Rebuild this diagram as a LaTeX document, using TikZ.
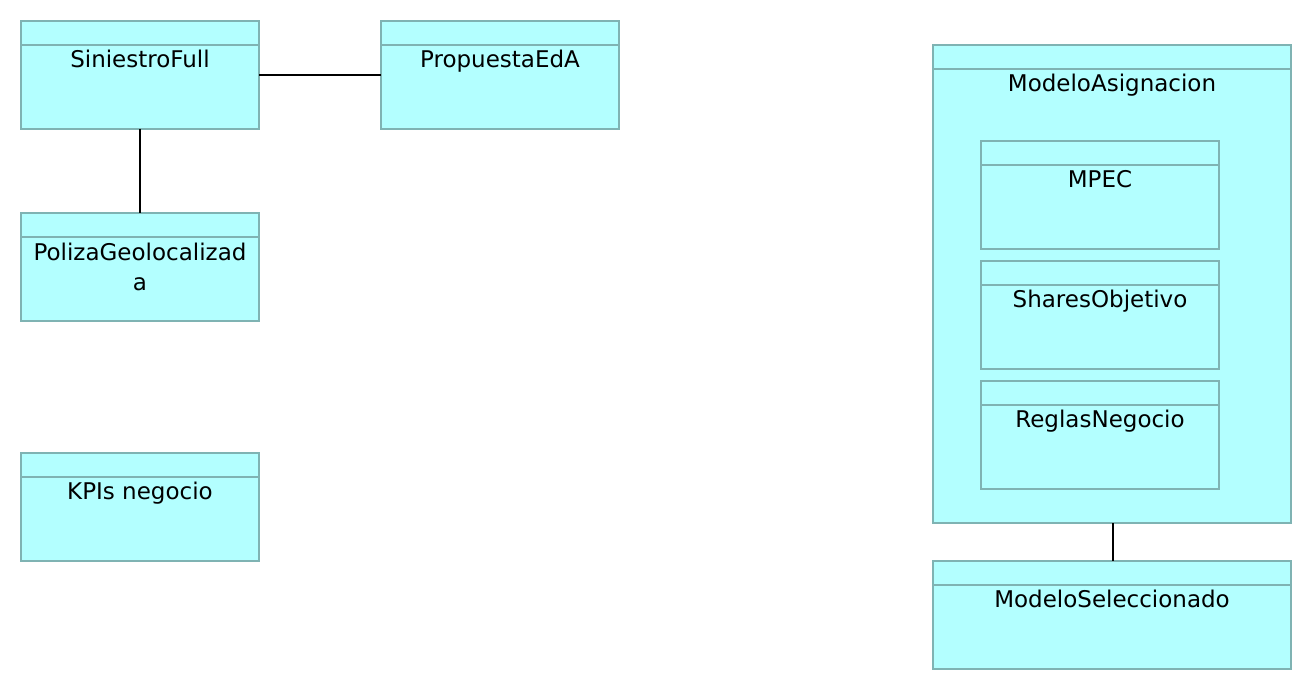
\documentclass[tikz,border=0pt]{standalone}
\usepackage{fontspec}
\setmainfont{DejaVu Sans}
\usetikzlibrary{calc}
\definecolor{boxfill}{HTML}{B3FFFF}
\definecolor{boxdraw}{HTML}{7FB3B3}
\tikzset{
  x=0.5pt, y=-0.5pt,
  umlbox/.style={draw=boxdraw, fill=boxfill, line width=1pt, anchor=north west, inner sep=0pt, outer sep=0pt},
  hdr/.style={draw=boxdraw, line width=1pt},
  title/.style={anchor=base, inner sep=0pt, font=\fontsize{11.5pt}{14pt}\selectfont},
  conn/.style={draw=black, line width=0.8pt}
}
\newcommand{\umlclass}[6]{% name, x, y, w, h, text
  \node[umlbox, minimum width=#4*0.5pt, minimum height=#5*0.5pt] (#1) at (#2,#3) {};
  \draw[hdr] ($(#1.north west)+(0,24)$) -- ($(#1.north east)+(0,24)$);
  \node[title] (#1-t) at ($(#1.north)+(0,46.5)$) {#6};
}
\begin{document}
\begin{tikzpicture}
\useasboundingbox (0,0) rectangle (1312,690);
\umlclass{sf}{21}{21}{238}{108}{SiniestroFull}
\umlclass{pe}{381}{21}{238}{108}{PropuestaEdA}
% Poliza with two lines
\node[umlbox, minimum width=119pt, minimum height=54pt] (pg) at (21,213) {};
\draw[hdr] ($(pg.north west)+(0,24)$) -- ($(pg.north east)+(0,24)$);
\node[title] (pg-t1) at ($(pg.north)+(0,47)$) {PolizaGeolocalizad};
\node[title] (pg-t2) at ($(pg.north)+(0,77)$) {a};
\umlclass{kp}{21}{453}{238}{108}{KPIs negocio}
\umlclass{ma}{933}{45}{358}{478}{ModeloAsignacion}
\umlclass{mp}{981}{141}{238}{108}{MPEC}
\umlclass{so}{981}{261}{238}{108}{SharesObjetivo}
\umlclass{rn}{981}{381}{238}{108}{ReglasNegocio}
\umlclass{ms}{933}{561}{358}{108}{ModeloSeleccionado}
\draw[conn] (sf.east |- 0,75) -- (pe.west |- 0,75);
\draw[conn] (sf.south) -- (pg.north);
\draw[conn] (ma.south -| 1113,0) -- (ms.north -| 1113,0);
\end{tikzpicture}
\end{document}
